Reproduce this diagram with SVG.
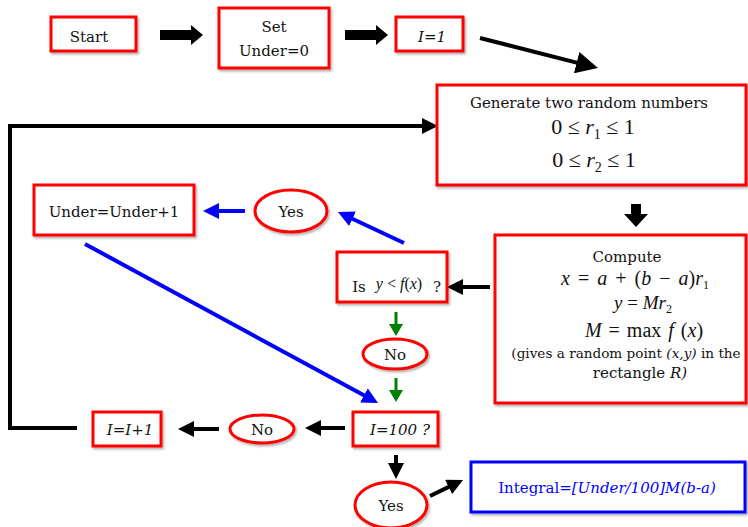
<svg xmlns="http://www.w3.org/2000/svg" width="748" height="527" viewBox="0 0 748 527">
<style>
.box{fill:#fff;stroke:#ff0000;stroke-width:3;filter:url(#sh)}
.bbox{fill:#fff;stroke:#0000ff;stroke-width:3;filter:url(#sh)}
.t{font-family:"DejaVu Serif","Liberation Serif",serif;font-size:15px;fill:#111;text-anchor:middle}
.it{font-style:italic}
.m{font-family:"Liberation Serif","Times New Roman",serif;fill:#111;text-anchor:middle}
.k{fill:none;stroke:#000;stroke-width:4}
.b{fill:none;stroke:#0000ff;stroke-width:4}
.g{fill:none;stroke:#008000;stroke-width:3}
.blk{fill:#000}
</style>
<defs>
<filter id="sh" x="-10%" y="-10%" width="120%" height="130%">
<feDropShadow dx="1.5" dy="2" stdDeviation="1.2" flood-color="#000" flood-opacity="0.3"/>
</filter>
<marker id="ak" viewBox="0 0 16 16" refX="2" refY="8" markerWidth="16" markerHeight="16" markerUnits="userSpaceOnUse" orient="auto"><path d="M0,0 L16,8 L0,16 z" fill="#000"/></marker>
<marker id="ab" viewBox="0 0 16 16" refX="2" refY="8" markerWidth="16" markerHeight="16" markerUnits="userSpaceOnUse" orient="auto"><path d="M0,0 L16,8 L0,16 z" fill="#0000ff"/></marker>
<marker id="ag" viewBox="0 0 12 14" refX="1" refY="7" markerWidth="12" markerHeight="14" markerUnits="userSpaceOnUse" orient="auto"><path d="M0,0 L12,7 L0,14 z" fill="#008000"/></marker>
<marker id="abig" viewBox="0 0 22 22" refX="2" refY="11" markerWidth="22" markerHeight="22" markerUnits="userSpaceOnUse" orient="auto"><path d="M0,0 L22,11 L0,22 z" fill="#000"/></marker>
</defs>

<g id="connectors">
<polygon class="blk" points="160,30 191,30 191,25 203,35 191,45 191,40 160,40"/>
<polygon class="blk" points="345,30 376,30 376,25 388,35 376,45 376,40 345,40"/>
<line class="k" x1="480" y1="38" x2="578.6" y2="63.1" stroke-width="5" marker-end="url(#abig)"/>
<polyline class="k" points="77,428 10,428 10,126 424,126" marker-end="url(#ak)"/>
<polygon class="blk" points="631,204 641,204 641,214 648,214 636,227 624,214 631,214"/>
<line class="k" x1="490" y1="287" x2="461" y2="287" marker-end="url(#ak)"/>
<line class="b" x1="404" y1="243" x2="350.7" y2="218" marker-end="url(#ab)"/>
<line class="b" x1="245" y1="211" x2="217" y2="211" marker-end="url(#ab)"/>
<line class="b" x1="85" y1="244" x2="365.7" y2="396.3" marker-end="url(#ab)"/>
<line class="g" x1="396" y1="312" x2="396" y2="325" marker-end="url(#ag)"/>
<line class="g" x1="396" y1="378" x2="396" y2="391" marker-end="url(#ag)"/>
<line class="k" x1="345" y1="428" x2="319" y2="428" marker-end="url(#ak)"/>
<line class="k" x1="219" y1="429" x2="192" y2="429" marker-end="url(#ak)"/>
<line class="k" x1="396" y1="455" x2="396" y2="465" marker-end="url(#ak)"/>
<line class="k" x1="430" y1="496" x2="450.4" y2="486.1" marker-end="url(#ak)"/>
</g>

<g id="start"><rect class="box" x="51" y="17" width="85" height="34"/><text class="t" x="89" y="42">Start</text></g>
<g id="setUnder"><rect class="box" x="219" y="8" width="110" height="60"/><text class="t" x="274" y="32">Set</text><text class="t" x="274" y="56">Under=0</text></g>
<g id="i1"><rect class="box" x="396" y="17" width="67" height="34"/><text class="t it" x="432" y="42">I=1</text></g>

<g id="generate"><rect class="box" x="437" y="85" width="309" height="100"/>
<text class="t" x="589" y="108">Generate two random numbers</text>
<text class="m" x="593" y="134" font-size="22">0 ≤ <tspan font-style="italic">r</tspan><tspan font-size="14" dy="5">1</tspan><tspan dy="-5"> ≤ 1</tspan></text>
<text class="m" x="594" y="167" font-size="22">0 ≤ <tspan font-style="italic">r</tspan><tspan font-size="14" dy="5">2</tspan><tspan dy="-5"> ≤ 1</tspan></text>
</g>

<g id="compute"><rect class="box" x="495" y="235" width="251" height="168"/>
<text class="t" x="627" y="262">Compute</text>
<text class="m" x="635" y="285" font-size="20" word-spacing="3"><tspan font-style="italic">x</tspan> = <tspan font-style="italic">a</tspan> + (<tspan font-style="italic">b</tspan> − <tspan font-style="italic">a</tspan>)<tspan font-style="italic">r</tspan><tspan font-size="12" dy="4">1</tspan></text>
<text class="m" x="643" y="309" font-size="19"><tspan font-style="italic">y</tspan> = <tspan font-style="italic">Mr</tspan><tspan font-size="12" dy="4">2</tspan></text>
<text class="m" x="644" y="337" font-size="20" word-spacing="2"><tspan font-style="italic">M</tspan> = max <tspan font-style="italic">f</tspan> (<tspan font-style="italic">x</tspan>)</text>
<text class="t" x="626" y="358" style="font-size:13.6px">(gives a random point <tspan font-style="italic">(x,y)</tspan> in the</text>
<text class="t" x="640" y="378">rectangle <tspan font-style="italic">R)</tspan></text>
</g>

<g id="isY"><rect class="box" x="337" y="252" width="110" height="50"/>
<text class="t" x="359" y="292">Is</text>
<text class="m" x="399" y="289" font-size="16" font-style="italic">y <tspan font-style="normal">&lt;</tspan> f<tspan font-style="normal">(</tspan>x<tspan font-style="normal">)</tspan></text>
<text class="t" x="437" y="292">?</text>
</g>

<g id="yes1"><ellipse class="box" cx="291" cy="211" rx="36" ry="21" stroke-width="3.5"/><text class="t" x="291" y="217">Yes</text></g>
<g id="underInc"><rect class="box" x="34" y="185" width="160" height="50"/><text class="t" x="114" y="217">Under=Under+1</text></g>
<g id="no1"><ellipse class="box" cx="395" cy="354" rx="32" ry="15" stroke-width="3.5"/><text class="t" x="395" y="360">No</text></g>
<g id="i100"><rect class="box" x="353" y="412" width="85" height="34"/><text class="t it" x="400" y="435">I=100 ?</text></g>
<g id="no2"><ellipse class="box" cx="262" cy="429" rx="32" ry="14" stroke-width="3.5"/><text class="t" x="262" y="435">No</text></g>
<g id="iInc"><rect class="box" x="93" y="412" width="68" height="34"/><text class="t it" x="130" y="435">I=I+1</text></g>
<g id="yes2"><ellipse class="box" cx="391" cy="505" rx="36" ry="23" stroke-width="3.5"/><text class="t" x="391" y="511">Yes</text></g>
<g id="integral"><rect class="bbox" x="471" y="462" width="274" height="50"/><text class="t" x="607" y="493" style="fill:#0000ff">Integral=<tspan font-style="italic">[Under/100]M(b-a)</tspan></text></g>
</svg>
